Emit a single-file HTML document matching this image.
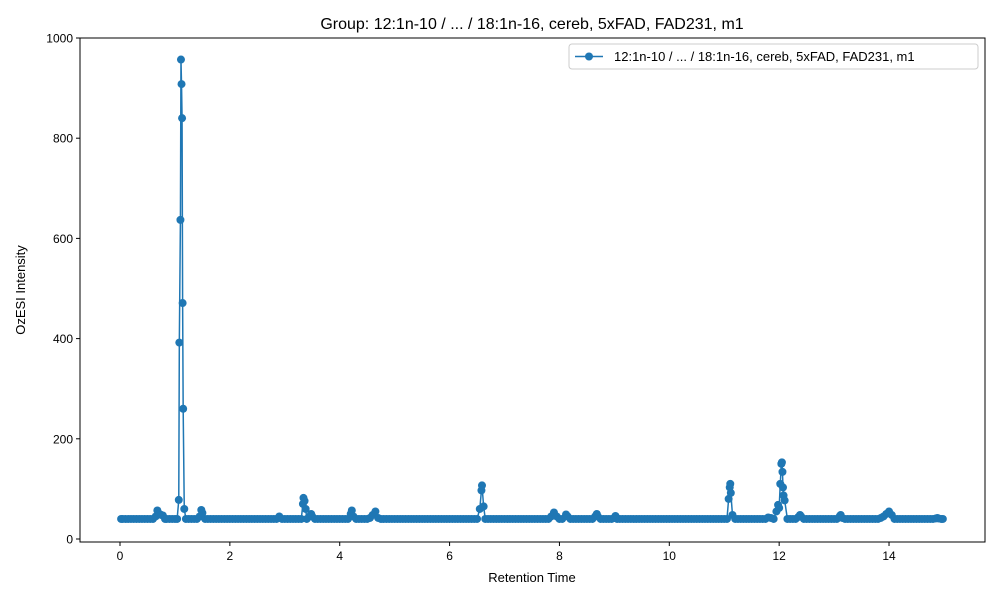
<!DOCTYPE html>
<html><head><meta charset="utf-8"><style>
body{margin:0;background:#fff;}
svg{font-family:"Liberation Sans",sans-serif;}
</style></head><body>
<svg id="chart" width="1000" height="600" viewBox="0 0 1000 600">
<rect width="1000" height="600" fill="#fff"/>
<text x="532" y="29" font-size="16" text-anchor="middle">Group: 12:1n-10 / ... / 18:1n-16, cereb, 5xFAD, FAD231, m1</text>
<text x="532" y="582" font-size="13" text-anchor="middle">Retention Time</text>
<text transform="translate(25,290) rotate(-90)" font-size="13" text-anchor="middle">OzESI Intensity</text>
<g id="ticks"></g>
<g id="series"></g>
<rect x="80" y="38" width="905" height="504" fill="none" stroke="#000" stroke-width="1"/>
<g>
<rect x="569" y="44" width="409" height="25" rx="3" fill="#fff" stroke="#ccc"/>
<g>
<line x1="575" y1="56.5" x2="603" y2="56.5" stroke="#1f77b4" stroke-width="1.5"/>
<circle cx="589" cy="56.5" r="4" fill="#1f77b4"/>
<text x="614" y="61" font-size="13">12:1n-10 / ... / 18:1n-16, cereb, 5xFAD, FAD231, m1</text>
</g></g>
</svg>
<script>
const xTicks=[0,2,4,6,8,10,12,14];
const yTicks=[0,200,400,600,800,1000];
const times=[
0.02,0.05,0.1,0.15,0.2,0.25,0.3,0.35,0.4,0.45,
0.5,0.55,0.6,0.65,0.68,0.72,0.75,0.78,0.82,0.85,
0.9,0.95,1.0,1.04,1.07,1.08,1.10,1.11,1.12,1.13,
1.14,1.15,1.17,1.2,1.25,1.3,1.35,1.4,1.45,1.48,
1.5,1.55,1.6,1.65,1.7,1.75,1.8,1.85,1.9,1.95,
2.0,2.05,2.1,2.15,2.2,2.25,2.3,2.35,2.4,2.45,
2.5,2.55,2.6,2.65,2.7,2.75,2.8,2.85,2.9,2.95,
3.0,3.05,3.1,3.15,3.2,3.25,3.3,3.33,3.34,3.36,
3.38,3.4,3.45,3.48,3.5,3.55,3.6,3.65,3.7,3.75,
3.8,3.85,3.9,3.95,4.0,4.05,4.1,4.15,4.2,4.22,
4.25,4.3,4.35,4.4,4.45,4.5,4.55,4.6,4.65,4.7,
4.75,4.8,4.85,4.9,4.95,5.0,5.05,5.1,5.15,5.2,
5.25,5.3,5.35,5.4,5.45,5.5,5.55,5.6,5.65,5.7,
5.75,5.8,5.85,5.9,5.95,6.0,6.05,6.1,6.15,6.2,
6.25,6.3,6.35,6.4,6.45,6.5,6.55,6.58,6.59,6.62,
6.65,6.7,6.75,6.8,6.85,6.9,6.95,7.0,7.05,7.1,
7.15,7.2,7.25,7.3,7.35,7.4,7.45,7.5,7.55,7.6,
7.65,7.7,7.75,7.8,7.85,7.9,7.95,8.0,8.05,8.12,
8.15,8.2,8.25,8.3,8.35,8.4,8.45,8.5,8.55,8.6,
8.65,8.68,8.7,8.75,8.8,8.85,8.9,8.95,9.0,9.02,
9.05,9.1,9.15,9.2,9.25,9.3,9.35,9.4,9.45,9.5,
9.55,9.6,9.65,9.7,9.75,9.8,9.85,9.9,9.95,10.0,
10.05,10.1,10.15,10.2,10.25,10.3,10.35,10.4,10.45,10.5,
10.55,10.6,10.65,10.7,10.75,10.8,10.85,10.9,10.95,11.0,
11.05,11.08,11.10,11.11,11.12,11.15,11.2,11.25,11.3,11.35,
11.4,11.45,11.5,11.55,11.6,11.65,11.7,11.75,11.8,11.85,
11.9,11.95,11.98,12.0,12.02,12.04,12.05,12.06,12.07,12.08,
12.1,12.15,12.2,12.25,12.3,12.35,12.38,12.4,12.45,12.5,
12.55,12.6,12.65,12.7,12.75,12.8,12.85,12.9,12.95,13.0,
13.05,13.1,13.12,13.15,13.2,13.25,13.3,13.35,13.4,13.45,
13.5,13.55,13.6,13.65,13.7,13.75,13.8,13.85,13.9,13.95,
14.0,14.05,14.1,14.15,14.2,14.25,14.3,14.35,14.4,14.45,
14.5,14.55,14.6,14.65,14.7,14.75,14.8,14.85,14.88,14.9,
14.95,14.98];
const values=[
40,40,40,40,40,40,40,40,40,40,
40,40,40,45,57,50,48,47,40,40,
40,40,40,40,78,392,637,957,908,840,
471,260,60,40,40,40,40,40,45,58,
52,40,40,40,40,40,40,40,40,40,
40,40,40,40,40,40,40,40,40,40,
40,40,40,40,40,40,40,40,45,40,
40,40,40,40,40,40,40,70,82,76,
60,40,45,50,45,40,40,40,40,40,
40,40,40,40,40,40,40,40,50,57,
45,40,40,40,40,40,42,48,55,42,
40,40,40,40,40,40,40,40,40,40,
40,40,40,40,40,40,40,40,40,40,
40,40,40,40,40,40,40,40,40,40,
40,40,40,40,40,40,60,97,107,65,
40,40,40,40,40,40,40,40,40,40,
40,40,40,40,40,40,40,40,40,40,
40,40,40,40,45,53,45,40,40,49,
45,40,40,40,40,40,40,40,40,40,
45,50,45,40,40,40,40,40,42,46,
40,40,40,40,40,40,40,40,40,40,
40,40,40,40,40,40,40,40,40,40,
40,40,40,40,40,40,40,40,40,40,
40,40,40,40,40,40,40,40,40,40,
40,80,103,110,92,48,40,40,40,40,
40,40,40,40,40,40,40,40,43,42,
40,55,68,62,110,150,153,134,103,87,
77,40,40,40,40,44,48,45,40,40,
40,40,40,40,40,40,40,40,40,40,
40,45,48,42,40,40,40,40,40,40,
40,40,40,40,40,40,40,42,45,50,
55,48,40,40,40,40,40,40,40,40,
40,40,40,40,40,40,40,41,42,41,
40,40];
const NS="http://www.w3.org/2000/svg";
const xs=t=>120+t*54.93;
const ys=v=>539-v*0.501;
const tg=document.getElementById('ticks');
function mk(tag,attrs,parent){const e=document.createElementNS(NS,tag);for(const k in attrs)e.setAttribute(k,attrs[k]);parent.appendChild(e);return e;}
xTicks.forEach(t=>{
  const l=mk('line',{x1:xs(t),x2:xs(t),y1:542,y2:546,stroke:'#000'},tg);
  
  
  const tx=mk('text',{x:xs(t),y:560,'font-size':12,'text-anchor':'middle'},tg);
  tx.textContent=t;
  
  
});
yTicks.forEach(v=>{
  const l=mk('line',{x1:76,x2:80,y1:ys(v),y2:ys(v),stroke:'#000'},tg);
  
  
  const tx=mk('text',{x:73,y:ys(v)+4.5,'font-size':12,'text-anchor':'end'},tg);
  tx.textContent=v;
  
  
});
const sg=document.getElementById('series');
const n=Math.min(times.length,values.length);
const pts=times.slice(0,n).map((t,i)=>xs(t)+','+ys(values[i])).join(' ');
const pl=mk('polyline',{points:pts,fill:'none',stroke:'#1f77b4','stroke-width':1.5},sg);


times.slice(0,n).forEach((t,i)=>{
  const c=mk('circle',{cx:xs(t),cy:ys(values[i]),r:4,fill:'#1f77b4'},sg);
  
  
});
</script>
</body></html>
